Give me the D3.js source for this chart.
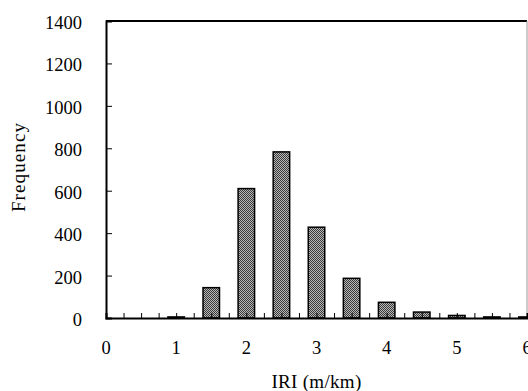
<!DOCTYPE html>
<html>
<head>
<meta charset="utf-8">
<script src="https://cdn.jsdelivr.net/npm/d3@7"></script>
<style>
  body { margin: 0; background: #fff; }
  svg text { font-family: "Liberation Serif", "Times New Roman", serif; fill: #000; }
</style>
</head>
<body>
<div id="chart"></div>
<script>
// IRI bins (m/km) and their frequencies
const iriBins = [0, 0.5, 1, 1.5, 2, 2.5, 3, 3.5, 4, 4.5, 5, 5.5, 6];
const frequency = [0, 0, 5, 143, 610, 783, 428, 187, 74, 28, 12, 5, 5];
const xTicks = [0, 1, 2, 3, 4, 5, 6];
const yTicks = [0, 200, 400, 600, 800, 1000, 1200, 1400];

const width = 528;
const height = 391;
const margin = { top: 21, right: 1, bottom: 73, left: 106 };

const svg = d3.select('#chart')
  .append('svg')
  .attr('width', width)
  .attr('height', height);

// dotted fill like the original
const defs = svg.append('defs');
const pat = defs.append('pattern')
  .attr('id', 'dots')
  .attr('width', 2).attr('height', 2)
  .attr('patternUnits', 'userSpaceOnUse');
pat.append('rect').attr('width', 2).attr('height', 2).attr('fill', '#b8b8b8');
pat.append('rect').attr('width', 1).attr('height', 1).attr('fill', '#3a3a3a');
pat.append('rect').attr('x', 1).attr('y', 1).attr('width', 1).attr('height', 1).attr('fill', '#3a3a3a');

const xScale = d3.scaleLinear().domain([0, 6]).range([margin.left, width - margin.right]);
const yScale = d3.scaleLinear().domain([0, 1400]).range([height - margin.bottom, margin.top]);

const barW = xScale(0.235) - xScale(0);

// frame: top and right lines
svg.append('line')
  .attr('x1', xScale(0)).attr('x2', xScale(6))
  .attr('y1', yScale(1400)).attr('y2', yScale(1400))
  .attr('stroke', '#000').attr('stroke-width', 2);
svg.append('line')
  .attr('x1', xScale(6)).attr('x2', xScale(6))
  .attr('y1', yScale(1400)).attr('y2', yScale(0))
  .attr('stroke', '#999').attr('stroke-width', 1);

// bars
svg.append('g')
  .selectAll('rect')
  .data(iriBins.map((b, i) => ({ bin: b, value: frequency[i] })))
  .join('rect')
  .attr('x', d => xScale(d.bin) - barW / 2)
  .attr('y', d => yScale(d.value))
  .attr('width', barW)
  .attr('height', d => yScale(0) - yScale(d.value))
  .attr('fill', 'url(#dots)')
  .attr('stroke', '#000')
  .attr('stroke-width', 1.5);

// x axis: minor ticks every 0.25 pointing inward
const xAxis = svg.append('g')
  .attr('transform', `translate(0, ${yScale(0)})`)
  .call(d3.axisTop(xScale).tickValues(d3.range(0, 6.01, 0.25)).tickSize(5).tickFormat(''));
xAxis.select('.domain').attr('stroke-width', 2);
xAxis.selectAll('.tick line').attr('stroke-width', 1);

svg.append('g')
  .selectAll('text')
  .data(xTicks)
  .join('text')
  .attr('x', d => xScale(d))
  .attr('y', yScale(0) + 36)
  .attr('text-anchor', 'middle')
  .attr('font-size', 18.5)
  .text(d => d);

// y axis with inward ticks
const yAxis = svg.append('g')
  .attr('transform', `translate(${xScale(0)}, 0)`)
  .call(d3.axisRight(yScale).tickValues(yTicks).tickSize(6).tickFormat(''));
yAxis.select('.domain').attr('stroke-width', 2);

svg.append('g')
  .selectAll('text')
  .data(yTicks)
  .join('text')
  .attr('x', 82)
  .attr('y', d => yScale(d) + 8)
  .attr('text-anchor', 'end')
  .attr('font-size', 18.5)
  .text(d => d);

// axis titles
svg.append('text')
  .attr('x', xScale(3))
  .attr('y', 388)
  .attr('text-anchor', 'middle')
  .attr('font-size', 19)
  .attr('letter-spacing', 0.3)
  .text('IRI (m/km)');

svg.append('text')
  .attr('transform', `translate(25, 167) rotate(-90)`)
  .attr('text-anchor', 'middle')
  .attr('font-size', 19)
  .attr('letter-spacing', 1.1)
  .text('Frequency');
</script>
</body>
</html>
